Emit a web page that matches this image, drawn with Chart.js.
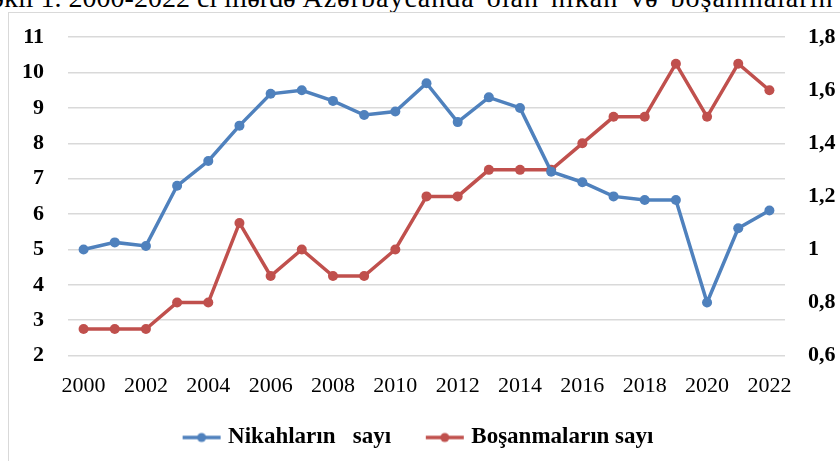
<!DOCTYPE html>
<html>
<head>
<meta charset="utf-8">
<script src="https://cdn.jsdelivr.net/npm/chart.js@4"></script>
<style>
  html, body { margin: 0; padding: 0; background: #fff; }
  body { width: 840px; height: 461px; overflow: hidden; position: relative; }
  #caption {
    position: absolute; left: -24px; top: -16px;
    font: 28px "Liberation Serif", serif; line-height: 28px;
    white-space: nowrap; color: #000;
  }
  #caption span { word-spacing: 4px; letter-spacing: 1px; }
  #frame {
    position: absolute; left: 8px; top: 12px; width: 860px; height: 470px;
    border: 1.5px solid #d9d9d9; box-sizing: border-box;
  }
  #wrap { position: absolute; left: 0; top: 0; width: 840px; height: 461px; }
</style>
</head>
<body>
<div id="caption">Şəkil 1. 2000-2022 ci illərdə <span>Azərbaycanda olan nikah və boşanmaların dinamikası</span></div>
<div id="frame"></div>
<div id="wrap"><canvas id="myChart"></canvas></div>
<script>
const years = ['2000','2001','2002','2003','2004','2005','2006','2007','2008','2009','2010','2011',
               '2012','2013','2014','2015','2016','2017','2018','2019','2020','2021','2022'];
const marriages = [5.0, 5.2, 5.1, 6.8, 7.5, 8.5, 9.4, 9.5, 9.2, 8.8, 8.9, 9.7,
                   8.6, 9.3, 9.0, 7.2, 6.9, 6.5, 6.4, 6.4, 3.5, 5.6, 6.1];
const divorces = [0.7, 0.7, 0.7, 0.8, 0.8, 1.1, 0.9, 1.0, 0.9, 0.9, 1.0, 1.2,
                  1.2, 1.3, 1.3, 1.3, 1.4, 1.5, 1.5, 1.7, 1.5, 1.7, 1.6];
const seriesNames = ['Nikahların   sayı', 'Boşanmaların sayı'];

const blue = '#4f81bd';
const red = '#c0504d';
const serif = '"Liberation Serif", serif';

// legend marker: short line with a dot
function marker(color) {
  const c = document.createElement('canvas');
  c.width = 40; c.height = 12;
  const g = c.getContext('2d');
  g.strokeStyle = color; g.lineWidth = 3.5;
  g.beginPath(); g.moveTo(1, 6); g.lineTo(39, 6); g.stroke();
  g.fillStyle = color;
  g.beginPath(); g.arc(20, 6, 4.5, 0, Math.PI * 2); g.fill();
  return c;
}
const markers = [marker(blue), marker(red)];

const ctx = document.getElementById('myChart');

new Chart(ctx, {
  type: 'line',
  data: {
    labels: years,
    datasets: [{
      label: seriesNames[0],
      data: marriages,
      yAxisID: 'y',
      borderColor: blue,
      backgroundColor: blue,
      borderWidth: 3.5,
      pointRadius: 5,
      pointBorderWidth: 0,
      pointStyle: 'circle',
      tension: 0
    }, {
      label: seriesNames[1],
      data: divorces,
      yAxisID: 'y1',
      borderColor: red,
      backgroundColor: red,
      borderWidth: 3.5,
      pointRadius: 5,
      pointBorderWidth: 0,
      pointStyle: 'circle',
      tension: 0
    }]
  },
  options: {
    responsive: true,
    maintainAspectRatio: false,
    animation: false,
    layout: { padding: { top: 26, bottom: 2, left: 0, right: 0 } },
    plugins: {
      legend: {
        position: 'bottom',
        labels: {
          usePointStyle: true,
          pointStyleWidth: 30,
          padding: 10,
          color: '#000',
          font: { family: serif, size: 23, weight: 'bold' },
          generateLabels: chart =>
            Chart.defaults.plugins.legend.labels.generateLabels(chart).map((item, i) => ({
              ...item,
              // extra trailing spaces give the gap between the two entries
              text: i === 0 ? item.text + '     ' : item.text,
              pointStyle: markers[i]
            }))
        }
      },
      tooltip: { enabled: false }
    },
    scales: {
      x: {
        offset: true,
        grid: { display: false, drawTicks: false },
        border: { display: false },
        ticks: {
          autoSkip: false,
          maxRotation: 0,
          padding: 17,
          color: '#000',
          font: { family: serif, size: 22 },
          callback: (v, i) => (i % 2 === 0 ? years[i] : '')
        }
      },
      y: {
        position: 'left',
        min: 2,
        max: 11,
        afterFit: s => { s.width = 68; },
        grid: { color: '#d9d9d9', lineWidth: 1.5, drawTicks: false },
        border: { display: false },
        ticks: {
          stepSize: 1,
          padding: 24,
          color: '#000',
          font: { family: serif, size: 22, weight: 'bold' }
        }
      },
      y1: {
        position: 'right',
        min: 0.6,
        max: 1.8,
        afterFit: s => { s.width = 55; },
        grid: { display: false, drawTicks: false },
        border: { display: false },
        ticks: {
          stepSize: 0.2,
          padding: 23,
          color: '#000',
          font: { family: serif, size: 22, weight: 'bold' },
          callback: v => String(Math.round(v * 10) / 10).replace('.', ',')
        }
      }
    }
  }
});
</script>
</body>
</html>
